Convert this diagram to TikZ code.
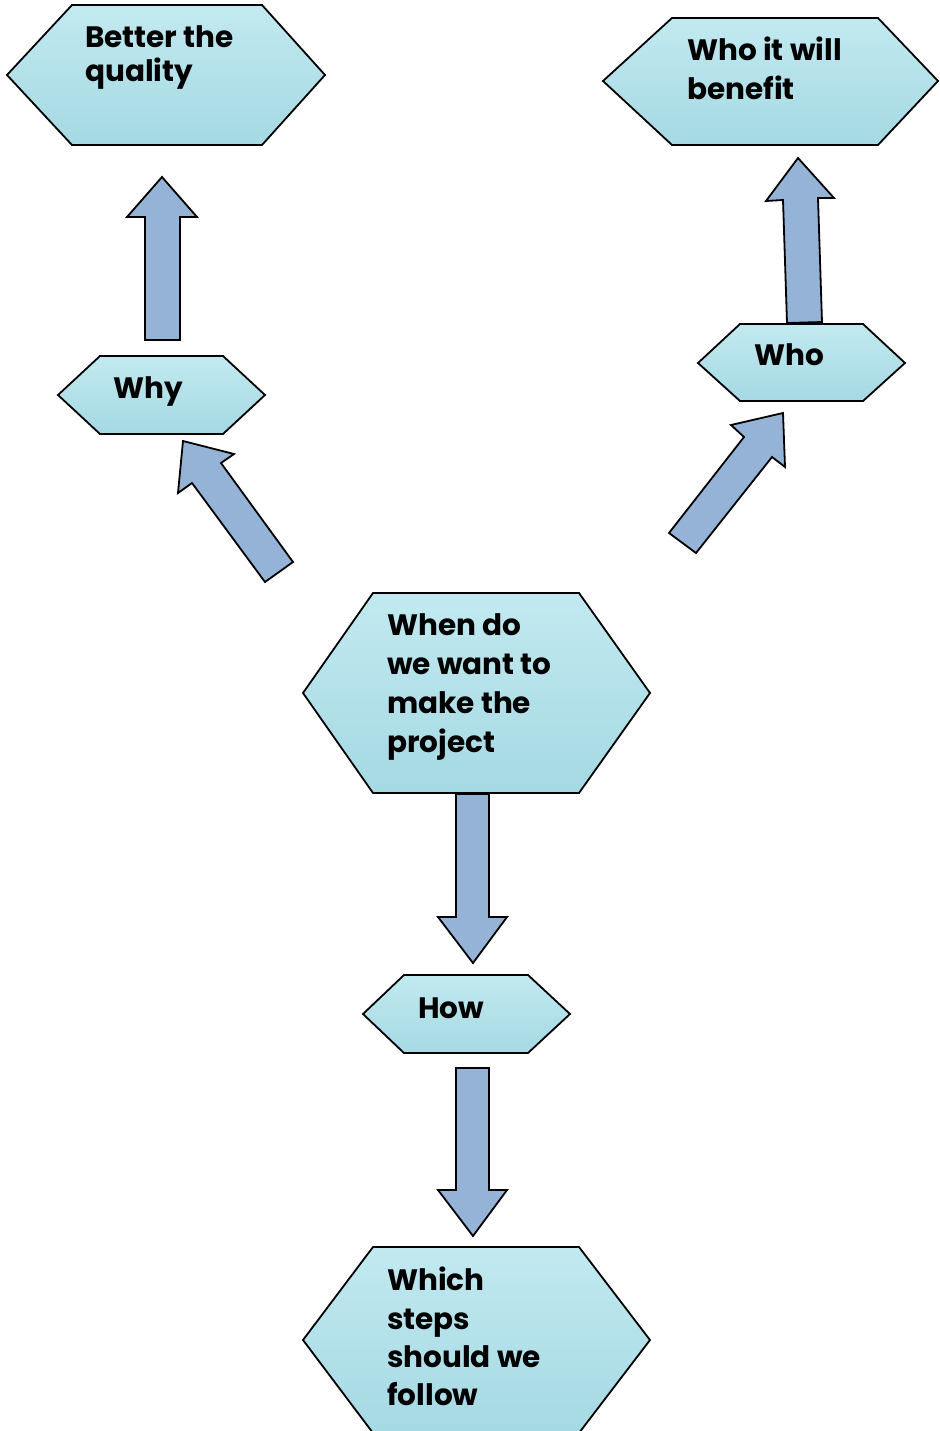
\documentclass[tikz,border=0pt]{standalone}
\usepackage{fontspec}
\setmainfont{Poppins}[BoldFont={* Bold}]
\definecolor{arrowblue}{HTML}{95B3D7}
\definecolor{aquatop}{HTML}{C2E9F0}
\definecolor{aquabot}{HTML}{A5D9E3}
\begin{document}
\begin{tikzpicture}[x=1pt,y=-1pt,
  hexbox/.style={draw=black, line width=1.8pt, line join=miter, top color=aquatop, bottom color=aquabot},
  blockarrow/.style={draw=black, line width=1.8pt, line join=miter, fill=arrowblue},
  lbl/.style={anchor=base west, inner sep=0pt, font=\bfseries\fontsize{29.5}{35}\selectfont}]
\useasboundingbox (0,0) rectangle (939,1431);
% hexagons
\path[hexbox] (72,5) -- (262,5) -- (325,75) -- (262,145) -- (72,145) -- (7,75) -- cycle;
\path[hexbox] (672,18) -- (878,18) -- (938,81) -- (878,145) -- (672,145) -- (603,81) -- cycle;
\path[hexbox] (100,356) -- (223,356) -- (265,395) -- (223,434) -- (100,434) -- (58,395) -- cycle;
\path[hexbox] (740,324) -- (863,324) -- (905,363) -- (863,401) -- (740,401) -- (698,363) -- cycle;
\path[hexbox] (373,593) -- (579,593) -- (650,693) -- (579,793) -- (373,793) -- (303,693) -- cycle;
\path[hexbox] (404,975) -- (528,975) -- (570,1014) -- (528,1053) -- (404,1053) -- (363,1014) -- cycle;
\path[hexbox] (373,1247) -- (579,1247) -- (650,1340) -- (579,1433) -- (373,1433) -- (303,1340) -- cycle;
% labels
\node[lbl] (q1) at (85,48) {Better the};
\node[lbl] (q2) at (85,82) {quality};
\node[lbl] (b1) at (687,61) {Who it will};
\node[lbl] (b2) at (687,100) {benefit};
\node[lbl] (why) at (113,398) {Why};
\node[lbl] (who) at (754,365) {Who};
\node[lbl] (w1) at (387,635) {When do};
\node[lbl] (w2) at (387,674) {we want to};
\node[lbl] (w3) at (387,713) {make the};
\node[lbl] (w4) at (387,752) {project};
\node[lbl] (how) at (418,1018) {How};
\node[lbl] (s1) at (387,1290) {Which};
\node[lbl] (s2) at (387,1329) {steps};
\node[lbl] (s3) at (387,1367) {should we};
\node[lbl] (s4) at (387,1405) {follow};
% block arrows
\path[blockarrow] (162,177) -- (197,217) -- (180,217) -- (180,340) -- (145,340) -- (145,217) -- (127,217) -- cycle;
\path[blockarrow] (798,158) -- (834,198) -- (818,198) -- (822,322) -- (787,323) -- (783,200) -- (766,201) -- cycle;
\path[blockarrow] (183,441) -- (234,454) -- (221,463) -- (293,562) -- (265,582) -- (192,483) -- (178,493) -- cycle;
\path[blockarrow] (783,413) -- (785,467) -- (772,457) -- (696,553) -- (669,533) -- (744,437) -- (731,425) -- cycle;
\path[blockarrow] (456,794) -- (489,794) -- (489,917) -- (507,917) -- (473,963) -- (438,917) -- (456,917) -- cycle;
\path[blockarrow] (456,1068) -- (489,1068) -- (489,1190) -- (507,1190) -- (473,1236) -- (438,1190) -- (456,1190) -- cycle;
\end{tikzpicture}
\end{document}
